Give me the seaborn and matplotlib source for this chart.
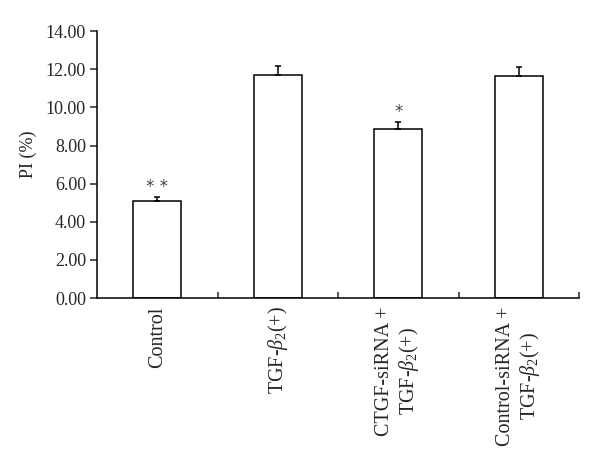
import matplotlib
matplotlib.use("Agg")
import matplotlib.pyplot as plt
import seaborn as sns
import pandas as pd
from matplotlib.ticker import FixedLocator, StrMethodFormatter

groups = ["Control", "TGF-$\\beta_2$(+)", "CTGF-siRNA +\nTGF-$\\beta_2$(+)",
          "Control-siRNA +\nTGF-$\\beta_2$(+)"]
pi_mean = [5.08, 11.72, 8.85, 11.63]
pi_err = [0.20, 0.47, 0.38, 0.48]
marks = ["* *", "", "*", ""]

sns.set_theme(style="ticks")
plt.rcParams["font.family"] = ["Liberation Serif", "DejaVu Serif"]
plt.rcParams["mathtext.fontset"] = "custom"
plt.rcParams["mathtext.rm"] = "Liberation Serif"
plt.rcParams["mathtext.it"] = "Liberation Serif:italic"

df = pd.DataFrame({"group": groups, "pi": pi_mean})

fig = plt.figure(figsize=(6, 4.65), dpi=100)
ax = fig.add_axes([0.1617, 0.359, 0.8033, 0.574])

sns.barplot(data=df, x="group", y="pi", color="white", edgecolor="black",
            linewidth=1.1, width=0.4, errorbar=None, ax=ax)
for p in ax.patches:
    p.set_facecolor("white")

xs = [p.get_x() + p.get_width() / 2 for p in ax.patches]
ax.errorbar(xs, pi_mean, yerr=[[0] * len(pi_err), pi_err], fmt="none",
            ecolor="black", elinewidth=1.1, capsize=2.5, capthick=1.1)

# significance marks, a little above the caps
for x, m, e, mk in zip(xs, pi_mean, pi_err, marks):
    if mk:
        ax.text(x, m + e + 0.08, mk, ha="center", va="bottom", fontsize=12,
                family="DejaVu Sans", color="#444444")

ax.set_xlim(-0.5, 3.5)
ax.set_ylim(0, 14)
ax.yaxis.set_major_locator(FixedLocator([0, 2, 4, 6, 8, 10, 12, 14]))
ax.yaxis.set_major_formatter(StrMethodFormatter("{x:.2f}"))
ax.xaxis.set_minor_locator(FixedLocator([0.5, 1.5, 2.5, 3.5]))

ax.tick_params(axis="x", which="major", length=0, pad=6, labelsize=14.5,
               labelrotation=90)
ax.tick_params(axis="x", which="minor", length=4, width=1.1, direction="in")
ax.tick_params(axis="y", which="major", length=5, width=1.1, direction="out",
               labelsize=13, pad=3)
for lab in ax.get_xticklabels():
    lab.set_ha("center")
    lab.set_va("top")
    lab.set_multialignment("center")

ax.set_xlabel("")
ax.set_ylabel("PI (%)", fontsize=13)
ax.yaxis.set_label_coords(-0.124, 0.54)

for s in ["top", "right"]:
    ax.spines[s].set_visible(False)
for s in ["left", "bottom"]:
    ax.spines[s].set_linewidth(1.1)
    ax.spines[s].set_color("black")

fig.savefig("out.png", dpi=100, facecolor="white")
